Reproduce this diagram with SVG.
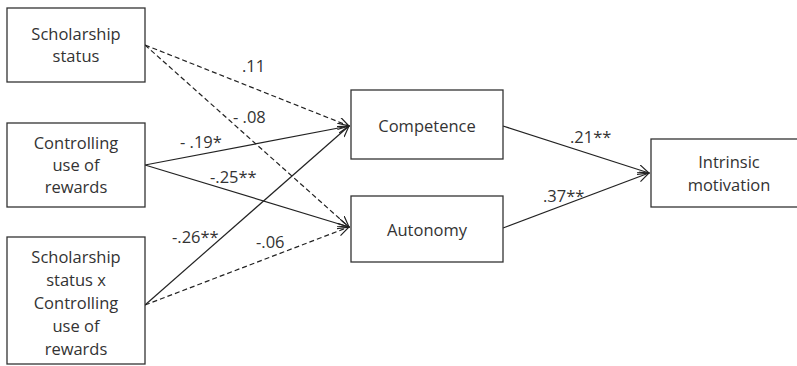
<svg xmlns="http://www.w3.org/2000/svg" width="797" height="366" viewBox="0 0 797 366">
<style>
.box{fill:#fff;stroke:#333;stroke-width:1.3}
.t{font-family:"Open Sans","Liberation Sans",sans-serif;font-size:16.5px;fill:#333;text-anchor:middle}
.l{font-family:"Open Sans","Liberation Sans",sans-serif;font-size:16.5px;fill:#333}
.c{fill:none;stroke:#222;stroke-width:1.2}
.d{stroke-dasharray:5,3}
</style>
<defs>
<marker id="ah" markerWidth="12" markerHeight="12" refX="11" refY="5" orient="auto" markerUnits="userSpaceOnUse">
<path d="M0,0 L11,5 L0,10" fill="none" stroke="#222" stroke-width="1.2"/>
</marker>
</defs>
<rect width="797" height="366" fill="#fff"/>
<g id="connectors">
<line class="c d" x1="145" y1="45" x2="349" y2="126" marker-end="url(#ah)"/>
<line class="c d" x1="145" y1="45" x2="349" y2="227" marker-end="url(#ah)"/>
<line class="c" x1="145" y1="165" x2="349" y2="126" marker-end="url(#ah)"/>
<line class="c" x1="145" y1="165" x2="349" y2="227" marker-end="url(#ah)"/>
<line class="c" x1="145" y1="305" x2="349" y2="126" marker-end="url(#ah)"/>
<line class="c d" x1="145" y1="305" x2="349" y2="227" marker-end="url(#ah)"/>
<line class="c" x1="503" y1="126" x2="649" y2="173" marker-end="url(#ah)"/>
<line class="c" x1="503" y1="228" x2="649" y2="173" marker-end="url(#ah)"/>
<text class="l" x="242" y="72">.11</text>
<text class="l" x="233" y="123">- .08</text>
<text class="l" x="180" y="148">- .19*</text>
<text class="l" x="210" y="183">-.25**</text>
<text class="l" x="172" y="243">-.26**</text>
<text class="l" x="256" y="248">-.06</text>
<text class="l" x="570" y="143">.21**</text>
<text class="l" x="543" y="202">.37**</text>
</g>
<g id="scholarship">
<rect class="box" x="7" y="8" width="138" height="74"/>
<text class="t" x="76" y="40">Scholarship</text>
<text class="t" x="76" y="62">status</text>
</g>
<g id="controlling">
<rect class="box" x="7" y="123" width="138" height="84"/>
<text class="t" x="76" y="149">Controlling</text>
<text class="t" x="76" y="171">use of</text>
<text class="t" x="76" y="193">rewards</text>
</g>
<g id="interaction">
<rect class="box" x="7" y="237" width="138" height="127"/>
<text class="t" x="76" y="263">Scholarship</text>
<text class="t" x="76" y="286">status x</text>
<text class="t" x="76" y="309">Controlling</text>
<text class="t" x="76" y="332">use of</text>
<text class="t" x="76" y="355">rewards</text>
</g>
<g id="competence">
<rect class="box" x="351" y="90" width="152" height="69"/>
<text class="t" x="427" y="132">Competence</text>
</g>
<g id="autonomy">
<rect class="box" x="351" y="196" width="152" height="66"/>
<text class="t" x="427" y="236">Autonomy</text>
</g>
<g id="intrinsic">
<rect class="box" x="651" y="139" width="160" height="68"/>
<text class="t" x="729" y="168">Intrinsic</text>
<text class="t" x="729" y="191">motivation</text>
</g>
</svg>
